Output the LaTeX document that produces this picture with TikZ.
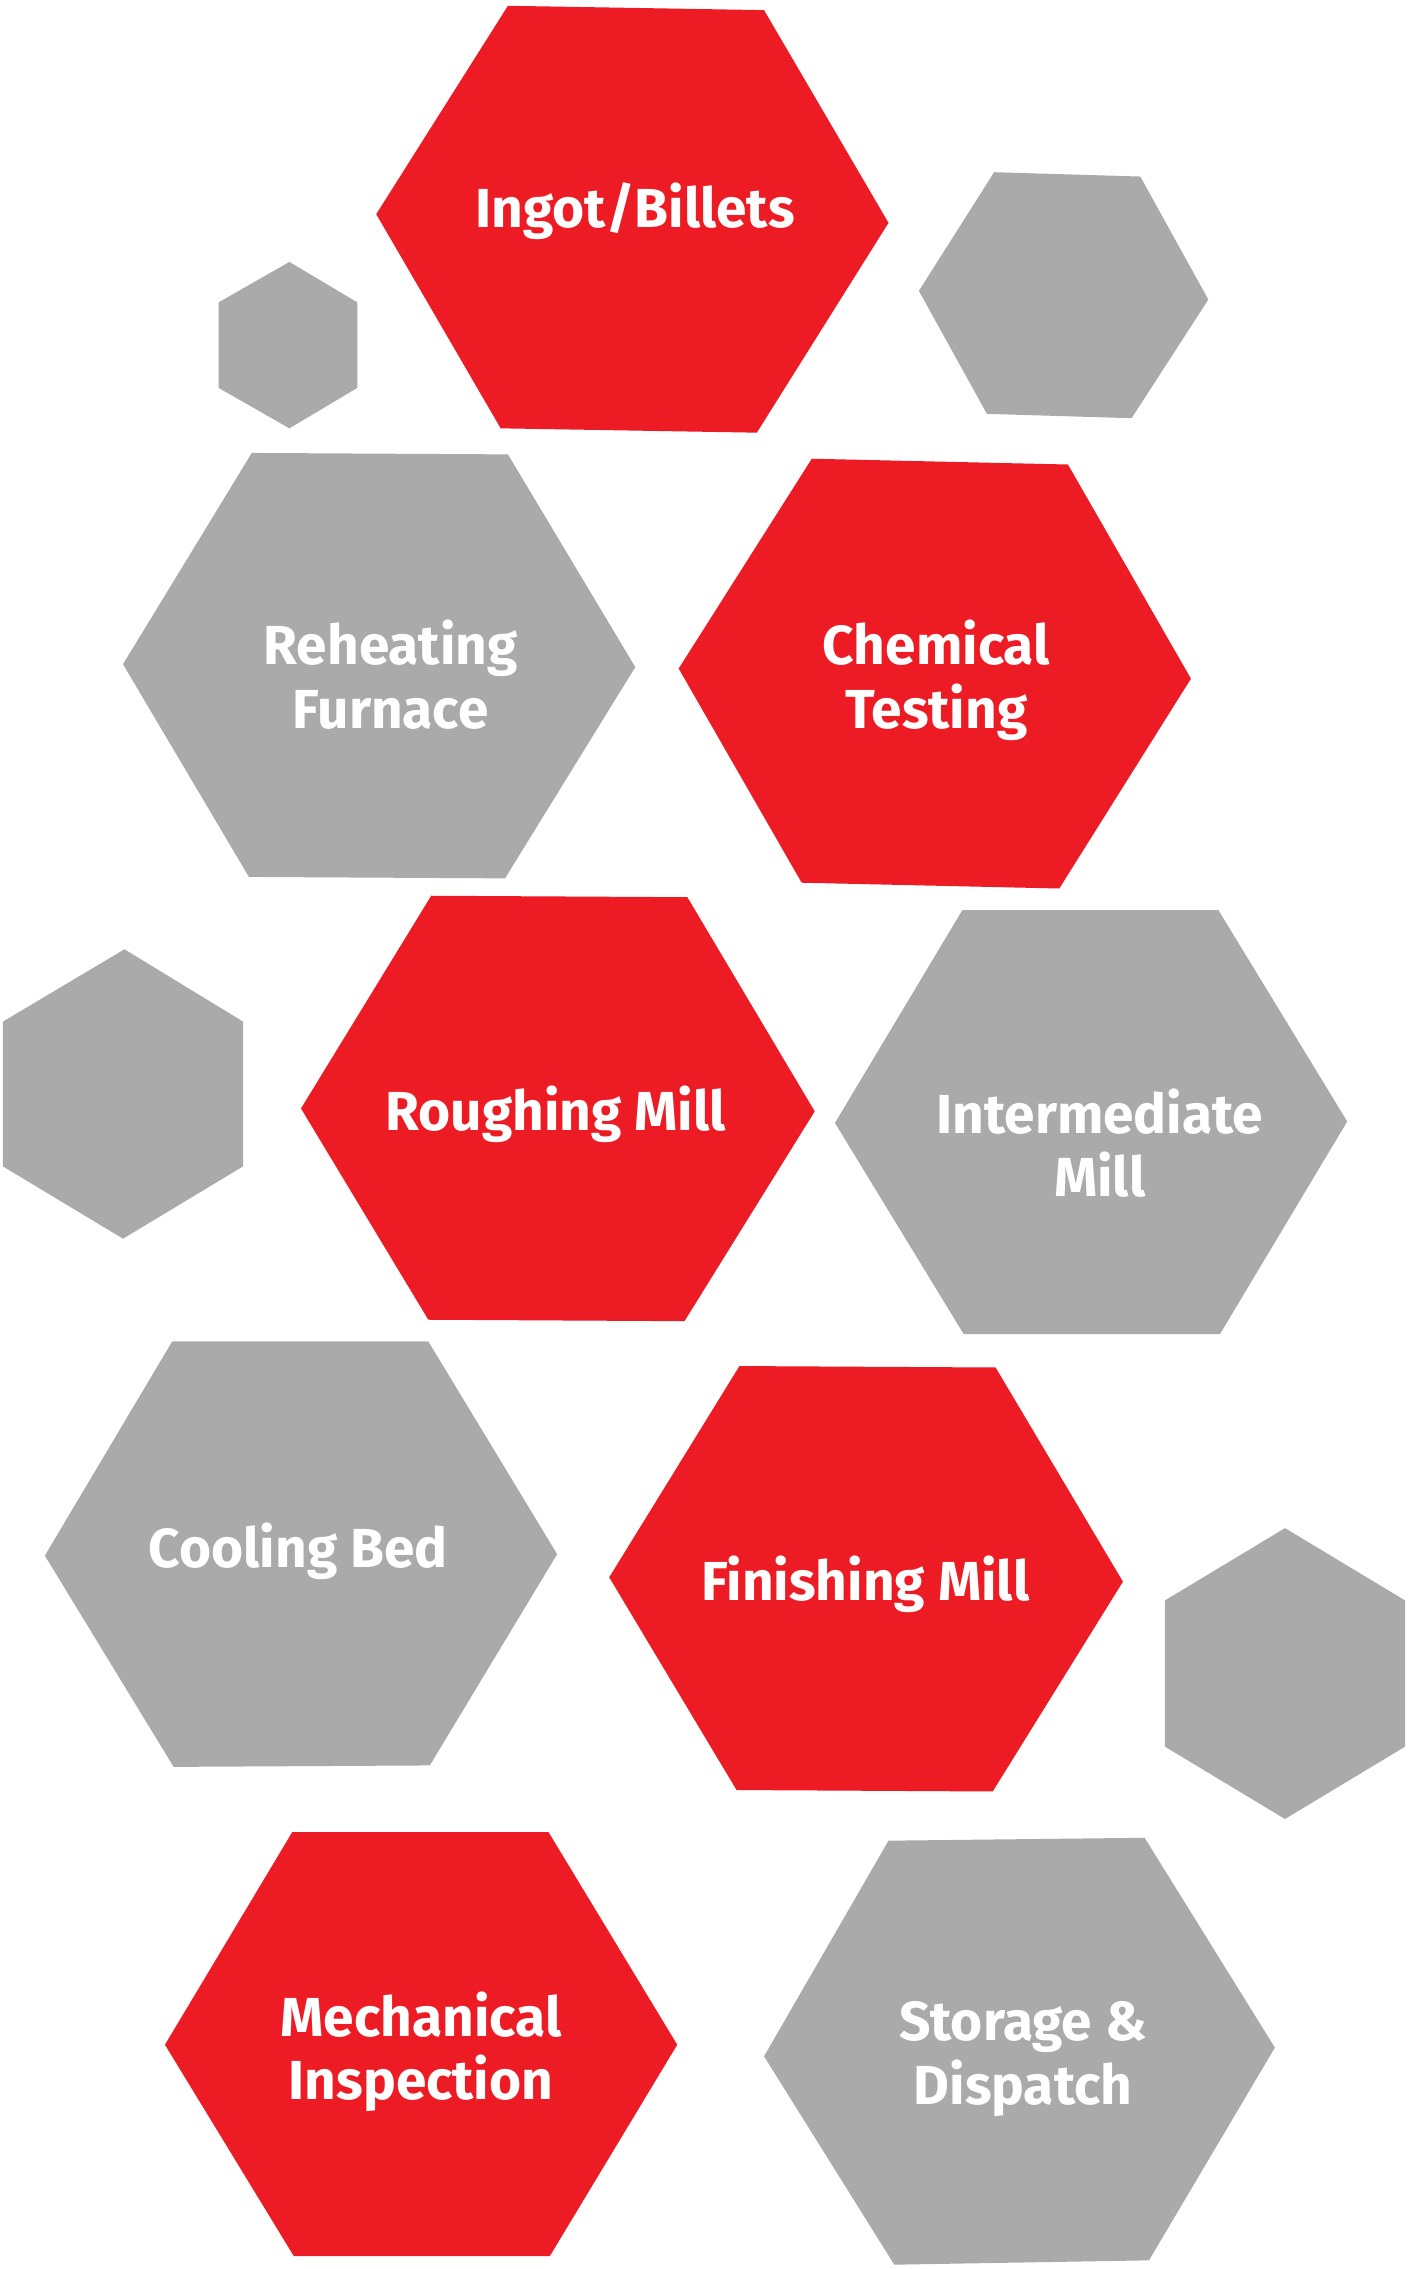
\documentclass[tikz,border=0pt]{standalone}
\usepackage{fontspec}
\setmainfont{Fira Sans}
\definecolor{hred}{HTML}{ED1C24}
\definecolor{hgray}{HTML}{AAAAAA}
\begin{document}
\begin{tikzpicture}[x=1pt,y=-1pt,
  redhex/.style={fill=hred,draw=none},
  grayhex/.style={fill=hgray,draw=none},
  lbl/.style={text=white,font=\fontsize{38}{44}\selectfont\bfseries,align=center}]
\useasboundingbox (0,0) rectangle (973,1568);
\fill[white] (0,0) rectangle (973,1568);
\path[redhex] (351,4)--(528,7)--(614,154)--(523,299)--(346,296)--(260,148)--cycle;
\path[grayhex] (200,181)--(247,209)--(247,268)--(200,296)--(151,268)--(151,209)--cycle;
\path[grayhex] (687,119)--(788,122)--(835,207)--(782,289)--(682,286)--(635,201)--cycle;
\path[grayhex] (174,313)--(351,314)--(439,461)--(349,607)--(172,606)--(85,459)--cycle;
\path[redhex] (561,317)--(738,321)--(823,469)--(732,614)--(554,610)--(469,462)--cycle;
\path[grayhex] (86,656)--(168,706)--(168,806)--(85,856)--(2,806)--(2,706)--cycle;
\path[redhex] (298,619)--(475,620)--(563,768)--(473,913)--(296,912)--(208,766)--cycle;
\path[grayhex] (665,629)--(842,629)--(931,775)--(843,922)--(666,922)--(577,776)--cycle;
\path[grayhex] (119,927)--(296,927)--(385,1074)--(297,1220)--(120,1221)--(31,1075)--cycle;
\path[redhex] (511,944)--(688,945)--(776,1093)--(686,1238)--(509,1237)--(421,1090)--cycle;
\path[grayhex] (888,1056)--(971,1106)--(971,1207)--(888,1257)--(805,1207)--(805,1106)--cycle;
\path[redhex] (202,1266)--(379,1266)--(468,1413)--(380,1559)--(203,1559)--(114,1413)--cycle;
\path[grayhex] (614,1272)--(791,1270)--(881,1415)--(794,1562)--(618,1565)--(528,1421)--cycle;
\node[lbl] (ingot) at (439,146) {Ingot/Billets};
\node[lbl] (reheat) at (270,466) {Reheating\\Furnace};
\node[lbl] (chem) at (647,470) {Chemical\\Testing};
\node[lbl] (rough) at (384,770) {Roughing Mill};
\node[lbl] (inter) at (760,790) {Intermediate\\Mill};
\node[lbl] (cool) at (206,1072) {Cooling Bed};
\node[lbl] (finish) at (598,1095) {Finishing Mill};
\node[lbl] (mech) at (291,1418) {Mechanical\\Inspection};
\node[lbl] (store) at (707,1423) {Storage \&\\Dispatch};
\end{tikzpicture}
\end{document}
